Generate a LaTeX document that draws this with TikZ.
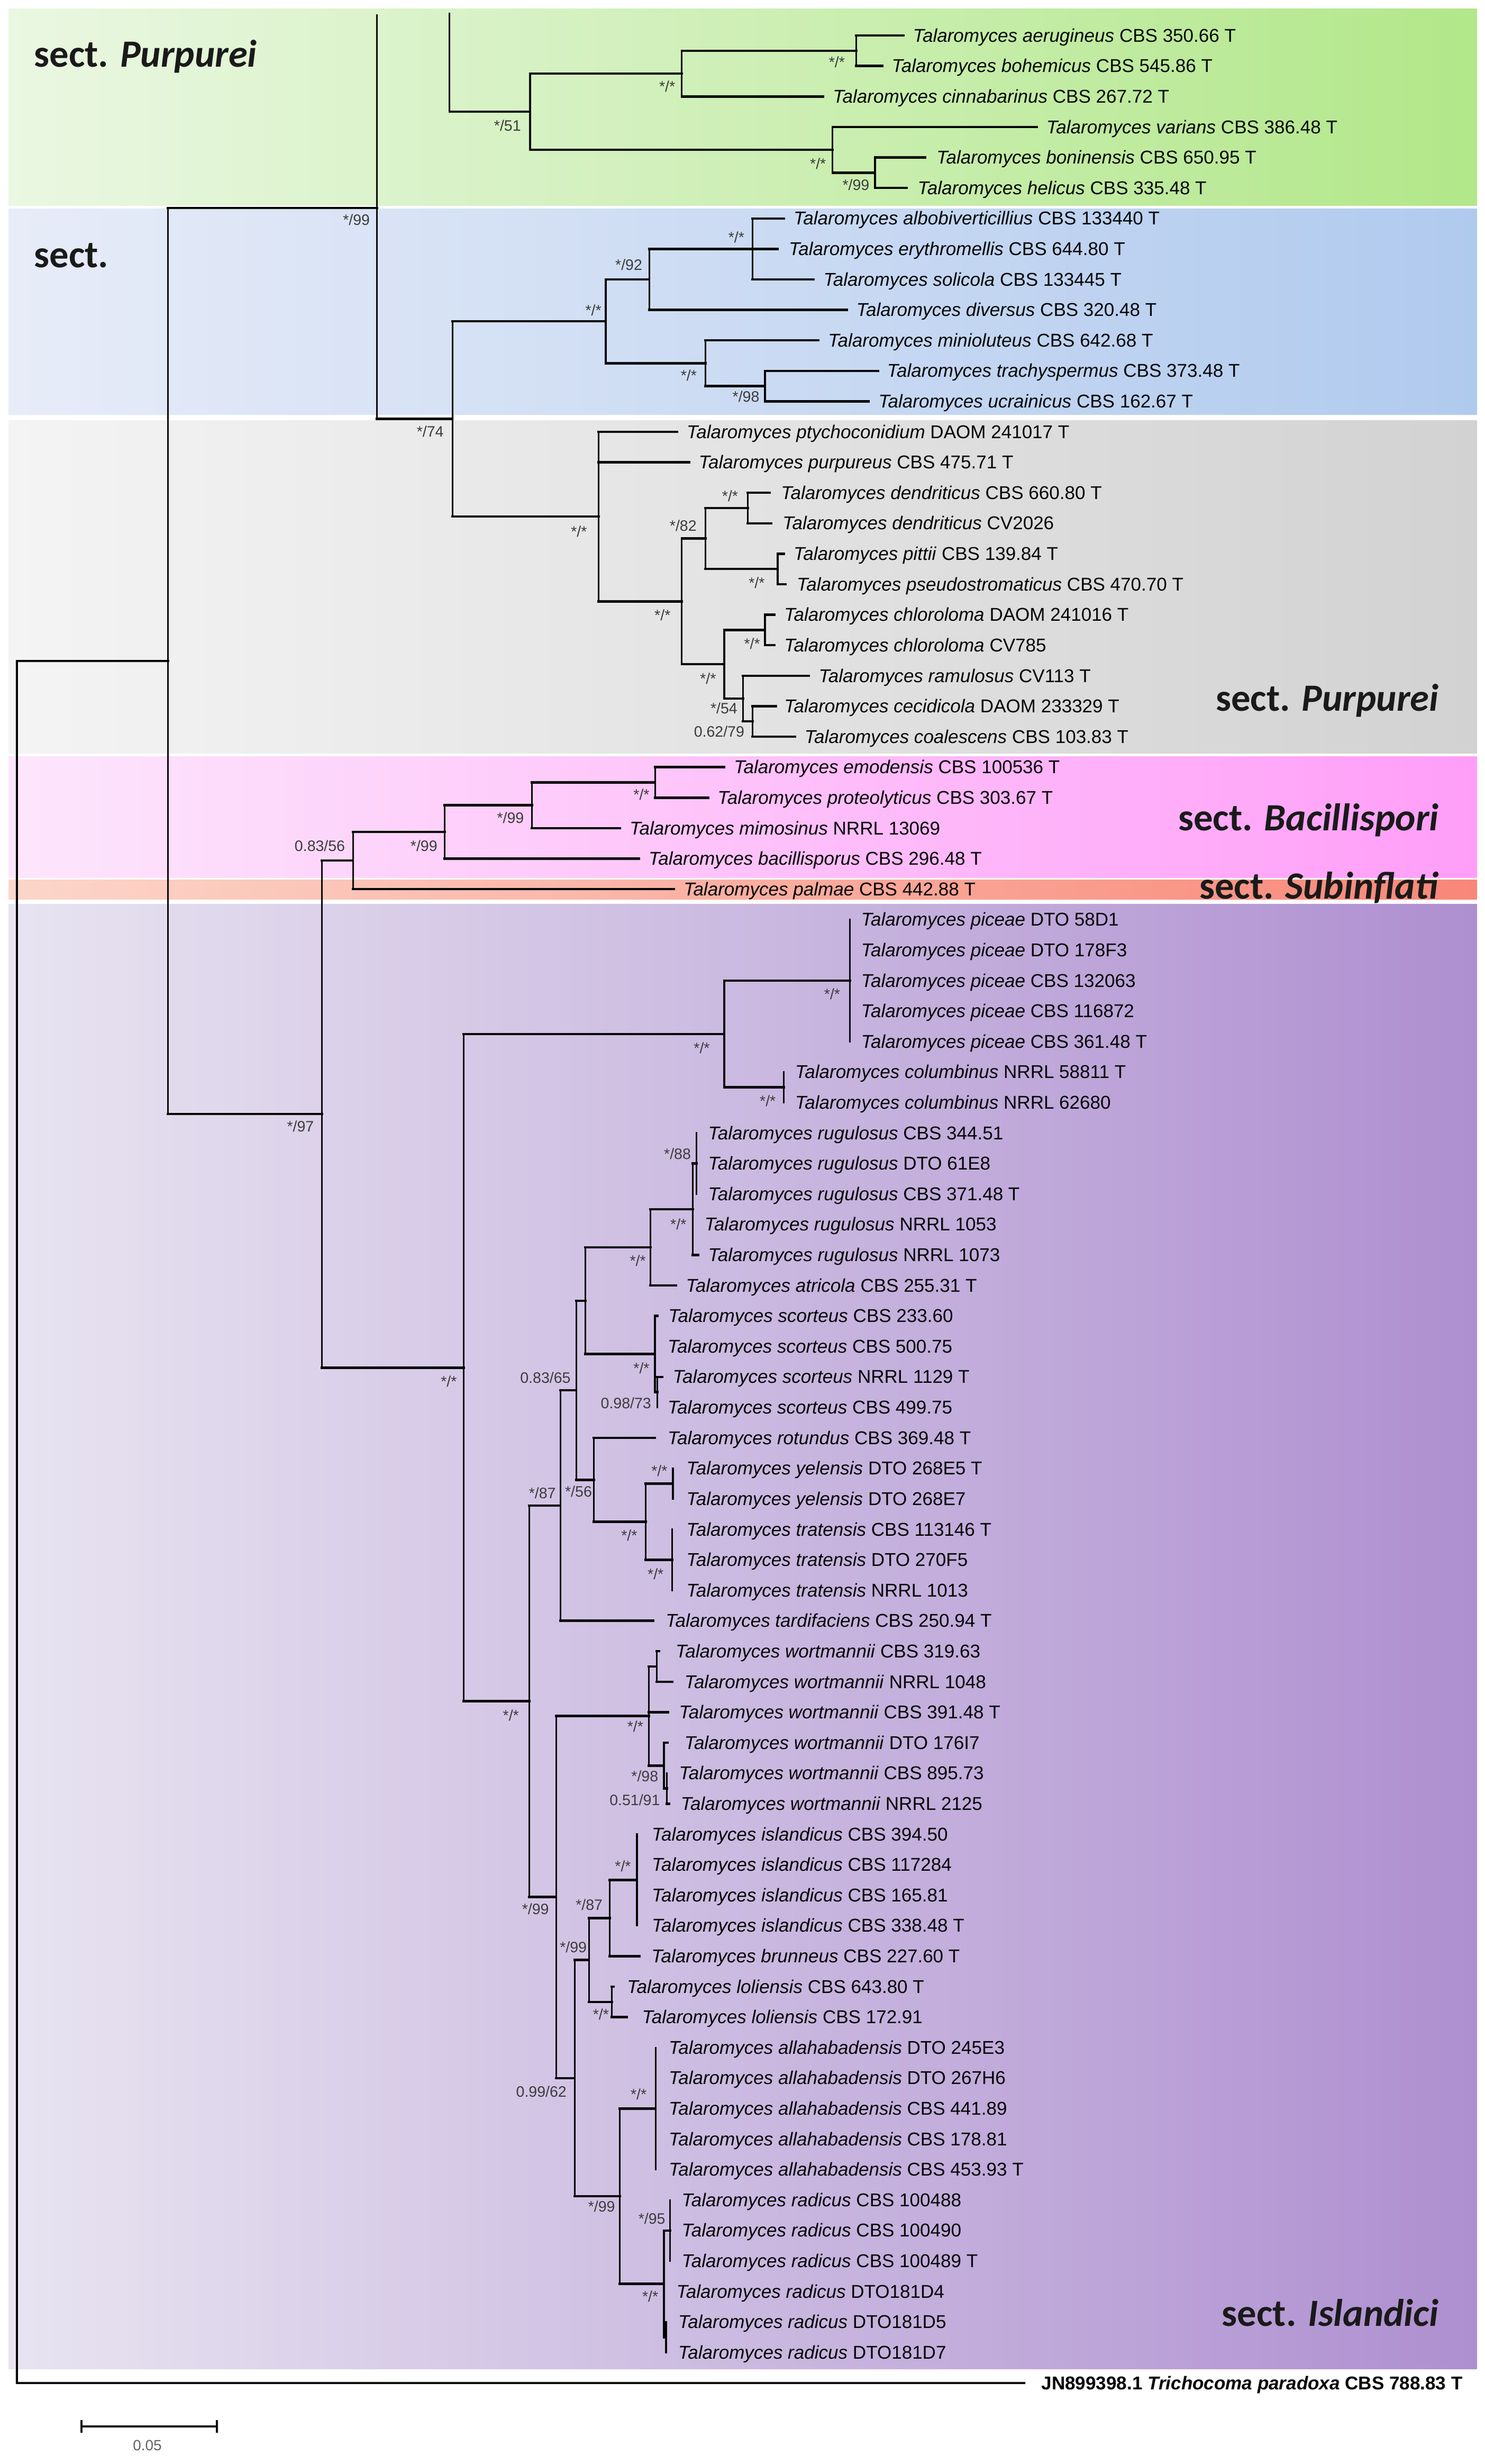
\documentclass[tikz,border=0pt]{standalone}
\usepackage{fontspec}
\setmainfont{Liberation Sans}
\newfontfamily\secfont{Carlito}
\definecolor{gL}{RGB}{234,247,226}\definecolor{gR}{RGB}{178,231,138}
\definecolor{bL}{RGB}{231,236,248}\definecolor{bR}{RGB}{176,202,238}
\definecolor{eL}{RGB}{244,244,244}\definecolor{eR}{RGB}{210,210,210}
\definecolor{pL}{RGB}{253,230,252}\definecolor{pR}{RGB}{255,158,248}
\definecolor{sL}{RGB}{252,214,202}\definecolor{sR}{RGB}{248,135,120}
\definecolor{vL}{RGB}{232,228,241}\definecolor{vR}{RGB}{174,143,208}
\definecolor{supc}{RGB}{60,60,60}
\definecolor{secc}{RGB}{26,26,26}
\newcommand\ry[1]{(22.6+19.4*(#1))}
\newcommand\lf[5]{\coordinate (t#1) at (#2,{\ry{#1}});
  \node[leaf] (l#1) at (#3,{\ry{#1}+4.1}) {\textit{Talaromyces #4} #5};}
\newcommand\br[2]{\draw[vl] (#1) -- (#1 |- #2); \draw[hl] (#1 |- #2) -- (#2);}
\newcommand\brs[2]{\foreach \kid in {#2}{\br{#1}{\kid}}}
\newcommand\sv[4]{\node[supl] (#1) at (#2,#3) {#4};}
\tikzset{
  vl/.style={line width=1.1pt, line cap=rect},
  hl/.style={line width=1.5pt, line cap=rect},
  leaf/.style={anchor=base west, inner sep=0pt, font=\fontsize{11.8}{13}\selectfont},
  supl/.style={anchor=east, inner sep=0pt, text=supc, font=\fontsize{9.6}{11}\selectfont},
  sec/.style={inner sep=0pt, text=secc, font=\secfont\bfseries\fontsize{24.5}{28}\selectfont},
}
\begin{document}
\begin{tikzpicture}[x=1pt,y=-1pt]
\useasboundingbox (0,0) rectangle (945,1568);
\fill[white] (0,0) rectangle (945,1568);
% bands
\shade[left color=gL,right color=gR] (5.4,5.4) rectangle (940,131);
\shade[left color=bL,right color=bR] (5.4,133) rectangle (940,264);
\shade[left color=eL,right color=eR] (5.4,267.5) rectangle (940,479.5);
\shade[left color=pL,right color=pR] (5.4,481.5) rectangle (940,558.5);
\shade[left color=sL,right color=sR] (5.4,559.8) rectangle (940,572.5);
\shade[left color=vL,right color=vR] (5.4,575.5) rectangle (940,1507.5);
% internal nodes
\coordinate (R0) at (10.8,420.6);
\coordinate (A) at (106.9,420.6);
\coordinate (B) at (239.9,132.3);
\coordinate (topB) at (239.9,9.6);
\coordinate (D) at (288,266.6);
\coordinate (topG) at (286.2,8.7);
\coordinate (E) at (337.4,71.1);
\coordinate (F) at (434,46.85);
\coordinate (G) at (545,32.3);
\coordinate (H) at (530,95.35);
\coordinate (I) at (557,109.9);
\coordinate (J) at (385.6,204.5);
\coordinate (K) at (413.3,177.8);
\coordinate (L) at (479,158.4);
\coordinate (M) at (449,231.15);
\coordinate (N) at (487,245.7);
\coordinate (O) at (381,328.75);
\coordinate (P) at (434,382.7);
\coordinate (Q) at (449,342.7);
\coordinate (R) at (476,323.3);
\coordinate (S) at (495,362.1);
\coordinate (T) at (461,422.7);
\coordinate (U) at (487,400.9);
\coordinate (V) at (473,444.55);
\coordinate (W) at (479,459.1);
\coordinate (C) at (204.9,708.95);
\coordinate (X) at (224.7,547.6);
\coordinate (Y) at (283,529.4);
\coordinate (Z) at (338.6,512.45);
\coordinate (AA) at (417,497.9);
\coordinate (AB) at (295.2,870.3);
\coordinate (AC) at (461,657.95);
\coordinate (AD) at (541,624);
\coordinate (AE) at (499,691.9);
\coordinate (AF) at (337,1082.6);
\coordinate (AG) at (356.7,958.05);
\coordinate (AH) at (366.8,884.7);
\coordinate (AI) at (372.6,827.7);
\coordinate (AJ) at (414,793.75);
\coordinate (AN) at (441,769.5);
\coordinate (AO) at (443.3,740.4);
\coordinate (AK) at (416.9,861.65);
\coordinate (AP) at (418.5,885.9);
\coordinate (AL) at (378,941.7);
\coordinate (AQ) at (411,968.35);
\coordinate (AR) at (428.4,944.1);
\coordinate (AS) at (427.8,992.6);
\coordinate (AM) at (354,1207.2);
\coordinate (W1) at (413,1092);
\coordinate (W1a) at (418,1060.5);
\coordinate (W1b) at (422.6,1123.55);
\coordinate (W1c) at (424.5,1138.1);
\coordinate (AT) at (365.8,1322.4);
\coordinate (AU) at (374.9,1247.2);
\coordinate (AV) at (388.1,1220.55);
\coordinate (AW) at (405.5,1196.3);
\coordinate (LO) at (389.4,1273.9);
\coordinate (AX) at (394.5,1397.6);
\coordinate (AY) at (417.3,1341.8);
\coordinate (AZ) at (422.6,1453.35);
\coordinate (RC) at (426.5,1419.4);
\coordinate (RD) at (424,1487.3);
% leaves
\lf{0}{575}{581}{aerugineus}{CBS 350.66 T}
\lf{1}{561.5}{567.5}{bohemicus}{CBS 545.86 T}
\lf{2}{524}{530}{cinnabarinus}{CBS 267.72 T}
\lf{3}{660}{666}{varians}{CBS 386.48 T}
\lf{4}{589}{596}{boninensis}{CBS 650.95 T}
\lf{5}{577}{584}{helicus}{CBS 335.48 T}
\lf{6}{499}{505}{albobiverticillius}{CBS 133440 T}
\lf{7}{495}{502}{erythromellis}{CBS 644.80 T}
\lf{8}{518}{524}{solicola}{CBS 133445 T}
\lf{9}{539}{545}{diversus}{CBS 320.48 T}
\lf{10}{521}{527}{minioluteus}{CBS 642.68 T}
\lf{11}{559}{564.5}{trachyspermus}{CBS 373.48 T}
\lf{12}{553}{559}{ucrainicus}{CBS 162.67 T}
\lf{13}{431}{437}{ptychoconidium}{DAOM 241017 T}
\lf{14}{438.6}{444.6}{purpureus}{CBS 475.71 T}
\lf{15}{490}{497}{dendriticus}{CBS 660.80 T}
\lf{16}{491}{498}{dendriticus}{CV2026}
\lf{17}{499}{505}{pittii}{CBS 139.84 T}
\lf{18}{500}{507}{pseudostromaticus}{CBS 470.70 T}
\lf{19}{493}{499}{chloroloma}{DAOM 241016 T}
\lf{20}{493}{499}{chloroloma}{CV785}
\lf{21}{515}{521}{ramulosus}{CV113 T}
\lf{22}{494}{499}{cecidicola}{DAOM 233329 T}
\lf{23}{506}{512}{coalescens}{CBS 103.83 T}
\lf{24}{461}{467}{emodensis}{CBS 100536 T}
\lf{25}{450.7}{456.7}{proteolyticus}{CBS 303.67 T}
\lf{26}{394.6}{400.7}{mimosinus}{NRRL 13069}
\lf{27}{406.7}{412.7}{bacillisporus}{CBS 296.48 T}
\lf{28}{429}{435}{palmae}{CBS 442.88 T}
\lf{29}{541}{548}{piceae}{DTO 58D1}
\lf{30}{541}{548}{piceae}{DTO 178F3}
\lf{31}{541}{548}{piceae}{CBS 132063}
\lf{32}{541}{548}{piceae}{CBS 116872}
\lf{33}{541}{548}{piceae}{CBS 361.48 T}
\lf{34}{499}{506}{columbinus}{NRRL 58811 T}
\lf{35}{499}{506}{columbinus}{NRRL 62680}
\lf{36}{443.3}{450.6}{rugulosus}{CBS 344.51}
\lf{37}{443.3}{450.6}{rugulosus}{DTO 61E8}
\lf{38}{443.3}{450.6}{rugulosus}{CBS 371.48 T}
\lf{39}{441}{448.3}{rugulosus}{NRRL 1053}
\lf{40}{444.4}{450.6}{rugulosus}{NRRL 1073}
\lf{41}{430.3}{436.5}{atricola}{CBS 255.31 T}
\lf{42}{418.6}{425.3}{scorteus}{CBS 233.60}
\lf{43}{416.9}{424.8}{scorteus}{CBS 500.75}
\lf{44}{421.4}{428.1}{scorteus}{NRRL 1129 T}
\lf{45}{418.5}{424.8}{scorteus}{CBS 499.75}
\lf{46}{417}{424.8}{rotundus}{CBS 369.48 T}
\lf{47}{428.4}{436.8}{yelensis}{DTO 268E5 T}
\lf{48}{428.4}{436.8}{yelensis}{DTO 268E7}
\lf{49}{427.8}{436.8}{tratensis}{CBS 113146 T}
\lf{50}{427.8}{436.8}{tratensis}{DTO 270F5}
\lf{51}{427.8}{436.8}{tratensis}{NRRL 1013}
\lf{52}{415.7}{423.6}{tardifaciens}{CBS 250.94 T}
\lf{53}{419.5}{429.9}{wortmannii}{CBS 319.63}
\lf{54}{428.1}{435.5}{wortmannii}{NRRL 1048}
\lf{55}{425.1}{432.1}{wortmannii}{CBS 391.48 T}
\lf{56}{425}{435.5}{wortmannii}{DTO 176I7}
\lf{57}{424.5}{432.1}{wortmannii}{CBS 895.73}
\lf{58}{426}{433.2}{wortmannii}{NRRL 2125}
\lf{59}{405.5}{414.7}{islandicus}{CBS 394.50}
\lf{60}{405.5}{414.7}{islandicus}{CBS 117284}
\lf{61}{405.5}{414.7}{islandicus}{CBS 165.81}
\lf{62}{405.5}{414.7}{islandicus}{CBS 338.48 T}
\lf{63}{407.2}{414.5}{brunneus}{CBS 227.60 T}
\lf{64}{390.5}{399}{loliensis}{CBS 643.80 T}
\lf{65}{399}{408.5}{loliensis}{CBS 172.91}
\lf{66}{417.3}{425.5}{allahabadensis}{DTO 245E3}
\lf{67}{417.3}{425.5}{allahabadensis}{DTO 267H6}
\lf{68}{417.3}{425.5}{allahabadensis}{CBS 441.89}
\lf{69}{417.3}{425.5}{allahabadensis}{CBS 178.81}
\lf{70}{417.3}{425.5}{allahabadensis}{CBS 453.93 T}
\lf{71}{426.5}{433.8}{radicus}{CBS 100488}
\lf{72}{426.5}{433.8}{radicus}{CBS 100490}
\lf{73}{426.5}{433.8}{radicus}{CBS 100489 T}
\lf{74}{422.6}{430.4}{radicus}{DTO181D4}
\lf{75}{424}{431.6}{radicus}{DTO181D5}
\lf{76}{424}{431.6}{radicus}{DTO181D7}
\coordinate (t77) at (652,{\ry{77}});
\node[leaf,font=\bfseries\fontsize{11.8}{13}\selectfont] (l77) at (662.8,{\ry{77}+4.1}) {JN899398.1 \textit{Trichocoma paradoxa} CBS 788.83 T};
% branches
\br{R0}{A} \br{R0}{t77}
\brs{A}{B,C}
\brs{B}{topB,D}
\br{topG}{E}
\brs{E}{F,H}
\brs{F}{G,t2}
\brs{G}{t0,t1}
\brs{H}{t3,I}
\brs{I}{t4,t5}
\brs{D}{J,O}
\brs{J}{K,M}
\brs{K}{L,t9}
\brs{L}{t6,t7,t8}
\brs{M}{t10,N}
\brs{N}{t11,t12}
\brs{O}{t13,t14,P}
\brs{P}{Q,T}
\brs{Q}{R,S}
\brs{R}{t15,t16}
\brs{S}{t17,t18}
\brs{T}{U,V}
\brs{U}{t19,t20}
\brs{V}{t21,W}
\brs{W}{t22,t23}
\brs{C}{X,AB}
\brs{X}{Y,t28}
\brs{Y}{Z,t27}
\brs{Z}{AA,t26}
\brs{AA}{t24,t25}
\brs{AB}{AC,AF}
\brs{AC}{AD,AE}
\brs{AD}{t29,t30,t31,t32,t33}
\brs{AE}{t34,t35}
\brs{AF}{AG,AM}
\brs{AG}{AH,t52}
\brs{AH}{AI,AL}
\brs{AI}{AJ,AK}
\brs{AJ}{AN,t41}
\brs{AN}{AO,t39,t40}
\brs{AO}{t36,t37,t38}
\brs{AK}{t42,t43,AP}
\brs{AP}{t44,t45}
\brs{AL}{t46,AQ}
\brs{AQ}{AR,AS}
\brs{AR}{t47,t48}
\brs{AS}{t49,t50,t51}
\brs{AM}{W1,AT}
\brs{W1}{W1a,t55,W1b}
\brs{W1a}{t53,t54}
\brs{W1b}{t56,W1c}
\brs{W1c}{t57,t58}
\brs{AT}{AU,AX}
\brs{AU}{AV,LO}
\brs{AV}{AW,t63}
\brs{AW}{t59,t60,t61,t62}
\brs{LO}{t64,t65}
\brs{AX}{AY,AZ}
\brs{AY}{t66,t67,t68,t69,t70}
\brs{AZ}{RC,t74,RD}
\brs{RC}{t71,t72,t73}
\brs{RD}{t75,t76}
% support values
\sv{sB}{235.6}{140}{*/99}
\sv{sE}{331.8}{80}{*/51}
\sv{sF}{430}{55}{*/*}
\sv{sG}{538}{39.5}{*/*}
\sv{sH}{526}{104}{*/*}
\sv{sI}{553.6}{117.7}{*/99}
\sv{sK}{409}{168.4}{*/92}
\sv{sL}{474}{151}{*/*}
\sv{sJ}{383}{197.6}{*/*}
\sv{sM}{443.7}{238.8}{*/*}
\sv{sN}{483.6}{252.5}{*/98}
\sv{sD}{282.6}{274.6}{*/74}
\sv{sO}{373.8}{338.2}{*/*}
\sv{sQ}{443.6}{334.4}{*/82}
\sv{sR}{470}{315.5}{*/*}
\sv{sS}{487}{370.8}{*/*}
\sv{sP}{427}{391.5}{*/*}
\sv{sT}{456}{431.8}{*/*}
\sv{sU}{484}{409.5}{*/*}
\sv{sV}{469.6}{450.7}{*/54}
\sv{sW}{474}{465.4}{0.62/79}
\sv{sAA}{413.6}{505.7}{*/*}
\sv{sZ}{333.7}{520.3}{*/99}
\sv{sY}{278.6}{538.2}{*/99}
\sv{sX}{219.8}{538.2}{0.83/56}
\sv{sC}{200}{716.8}{*/97}
\sv{sAD}{535}{632.7}{*/*}
\sv{sAC}{452}{667}{*/*}
\sv{sAE}{494}{700.5}{*/*}
\sv{sAB}{291}{879}{*/*}
\sv{sAO}{440}{734.4}{*/88}
\sv{sAN}{437.1}{779}{*/*}
\sv{sAJ}{411.3}{802.3}{*/*}
\sv{sAK}{413.6}{870.8}{*/*}
\sv{sAP}{414.7}{892.8}{0.98/73}
\sv{sAH}{363.4}{876.8}{0.83/65}
\sv{sAL}{377}{949}{*/56}
\sv{sAG}{354}{950}{*/87}
\sv{sAQ}{405.8}{976.9}{*/*}
\sv{sAR}{425}{936}{*/*}
\sv{sAS}{422.6}{1001.8}{*/*}
\sv{sAF}{330.5}{1091.7}{*/*}
\sv{sW1}{409.7}{1098.7}{*/*}
\sv{sW1b}{419.2}{1130.2}{*/98}
\sv{sW1c}{420.3}{1145.3}{0.51/91}
\sv{sAM}{349.6}{1214.9}{*/99}
\sv{sAU}{373.7}{1239}{*/99}
\sv{sAV}{383.8}{1212.1}{*/87}
\sv{sAW}{401.8}{1187.4}{*/*}
\sv{sLO}{387.8}{1281.7}{*/*}
\sv{sAT}{360.8}{1331}{0.99/62}
\sv{sAY}{411.8}{1332.6}{*/*}
\sv{sAX}{391.7}{1404}{*/99}
\sv{sRC}{423.7}{1411.9}{*/95}
\sv{sAZ}{419.2}{1461.3}{*/*}
% section labels
\node[sec,anchor=base west] (sec1) at (21.5,42.7) {sect. \textit{Purpurei}};
\node[sec,anchor=base west] (sec2) at (21.5,170.2) {sect.};
\node[sec,anchor=base east] (sec3) at (916,452.4) {sect. \textit{Purpurei}};
\node[sec,anchor=base east] (sec4) at (916,528.5) {sect. \textit{Bacillispori}};
\node[sec,anchor=base east] (sec5) at (916,572) {sect. \textit{Subinflati}};
\node[sec,anchor=base east] (sec6) at (916,1480.3) {sect. \textit{Islandici}};
% scale bar
\coordinate (sb1) at (52,1544);
\coordinate (sb2) at (138,1544);
\draw[line width=1.3pt] (sb1) -- (sb2);
\draw[line width=1.3pt] ([yshift=4pt]sb1) -- ([yshift=-4pt]sb1);
\draw[line width=1.3pt] ([yshift=4pt]sb2) -- ([yshift=-4pt]sb2);
\node[supl,anchor=center,text=supc!80,font=\fontsize{9.4}{11}\selectfont] (sbl) at (93.8,1556) {0.05};
\end{tikzpicture}
\end{document}
